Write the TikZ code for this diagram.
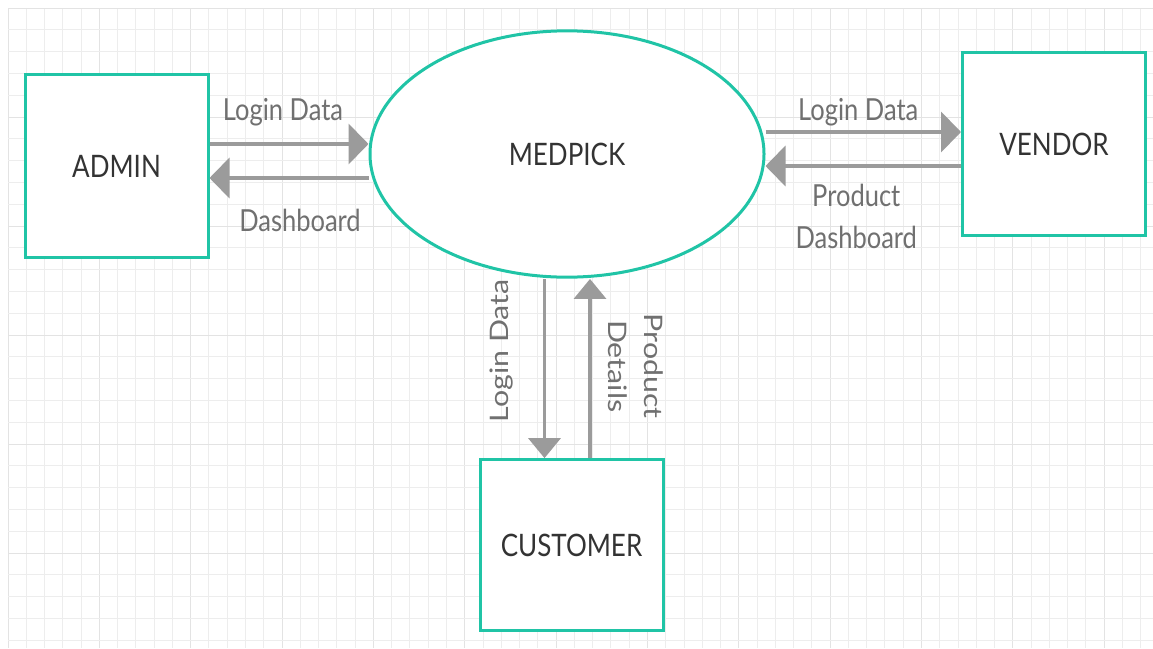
\documentclass[tikz,border=0pt]{standalone}
\usepackage{fontspec}
\setmainfont{Lato}
\usetikzlibrary{arrows.meta,shapes.geometric}

\definecolor{dfdteal}{RGB}{32,196,166}
\definecolor{flowgray}{RGB}{155,155,155}
\definecolor{lbltext}{RGB}{112,112,112}
\definecolor{nodetext}{RGB}{51,51,51}

\begin{document}
\begin{tikzpicture}[x=1pt,y=-1pt,
    entity/.style={draw=dfdteal,line width=3pt,fill=white,inner sep=0pt,yscale=1.19,
      minimum width=183pt,minimum height=153pt,text=nodetext,
      font=\fontsize{26}{31}\selectfont},
    hflow/.style={-{Triangle[length=20pt,width=40pt]},draw=flowgray,line width=4pt},
    vflow/.style={-{Triangle[length=20pt,width=32pt]},draw=flowgray,line width=3.5pt},
    lbl/.style={yscale=1.19,text=lbltext,font=\fontsize{25.5}{30}\selectfont},
    minorline/.style={draw=black!7,line width=1pt},
    majorline/.style={draw=black!11,line width=1pt}]
  % paper and grid
  \fill[white] (0,0) rectangle (1153,648);
  \useasboundingbox (0,0) rectangle (1153,648);
  \foreach \i in {0,...,62} {
    \pgfmathtruncatemacro{\m}{mod(\i,5)}
    \ifnum\m=0 \def\gl{majorline}\else \def\gl{minorline}\fi
    \draw[\gl] ({8+\i*18.27},8) -- ({8+\i*18.27},648);
  }
  \foreach \j in {0,...,29} {
    \pgfmathtruncatemacro{\m}{mod(\j,5)}
    \ifnum\m=0 \def\gl{majorline}\else \def\gl{minorline}\fi
    \draw[\gl] (8,{8+\j*21.8}) -- (1153,{8+\j*21.8});
  }

  % entities and process
  \node[entity] (admin) at (116.5,166) {ADMIN};
  \node[entity,ellipse,minimum width=394pt,minimum height=207pt] (medpick) at (567,154) {MEDPICK};
  \node[entity] (vendor) at (1054,144) {VENDOR};
  \node[entity,minimum height=143pt] (customer) at (571.5,545) {CUSTOMER};

  % data flows
  \draw[hflow] ([yshift=22pt]admin.east) -- node[lbl,above=10pt,xshift=-6pt] {Login Data} ([yshift=22pt]admin.east -| medpick.west);
  \draw[hflow] ([yshift=-12pt]admin.east -| medpick.west) -- node[lbl,below=21pt,xshift=11pt] {Dashboard} ([yshift=-12pt]admin.east);
  \draw[hflow] ([yshift=12pt]vendor.west -| medpick.east) -- node[lbl,above=0pt,xshift=-5pt] {Login Data} ([yshift=12pt]vendor.west);
  \draw[hflow] ([yshift=-22pt]vendor.west) -- node[lbl,below=10pt,xshift=-7pt,align=center,font=\fontsize{25.5}{35}\selectfont] {Product\\Dashboard} ([yshift=-22pt]vendor.west -| medpick.east);
  \draw[vflow] ([xshift=-27pt]customer.north |- medpick.south) -- node[lbl,xshift=-43pt,yshift=15pt,rotate=90] {Login Data} ([xshift=-27pt]customer.north);
  \draw[vflow] ([xshift=18.5pt]customer.north) -- node[lbl,xshift=46pt,yshift=2pt,rotate=-90,align=center,font=\fontsize{25.5}{36}\selectfont] {Product\\Details} ([xshift=18.5pt]customer.north |- medpick.south);
\end{tikzpicture}
\end{document}
